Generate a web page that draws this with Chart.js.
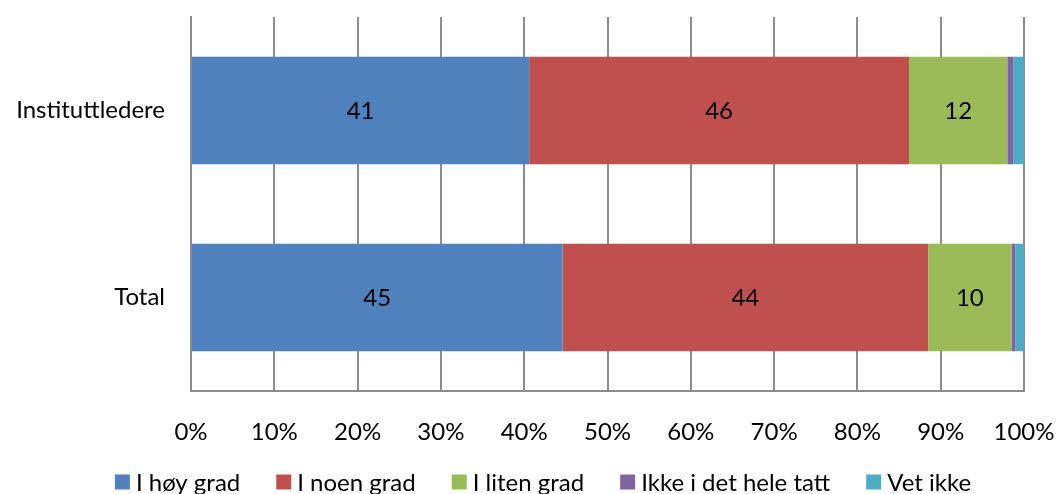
<!DOCTYPE html>
<html>
<head>
<meta charset="utf-8">
<script src="https://cdn.jsdelivr.net/npm/chart.js@4/dist/chart.umd.min.js"></script>
<style>
html,body{margin:0;padding:0;background:#fff;}
#wrap{width:1057px;height:494px;position:relative;}
</style>
</head>
<body>
<div id="wrap"><canvas id="c" width="1057" height="494"></canvas></div>
<script>
const categories = ["Instituttledere", "Total"];
const seriesNames = ["I høy grad", "I noen grad", "I liten grad", "Ikke i det hele tatt", "Vet ikke"];
const hoyGrad = [40.6, 44.6];
const noenGrad = [45.6, 43.9];
const litenGrad = [11.8, 10.0];
const ikkeIDetHele = [0.7, 0.45];
const vetIkke = [1.3, 1.05];
const xTickLabels = ["0%","10%","20%","30%","40%","50%","60%","70%","80%","90%","100%"];
const colors = ["#4F81BD", "#C0504D", "#9BBB59", "#8064A2", "#4BACC6"];
const labelledSeries = [0, 1, 2];

const FONT = "Lato, 'Noto Sans', sans-serif";
const FSIZE = 24;
const GRID = "#8c8c8c";

const values = [hoyGrad, noenGrad, litenGrad, ikkeIDetHele, vetIkke];

const dataLabels = {
  id: 'dataLabels',
  afterDatasetsDraw(chart) {
    const ctx = chart.ctx;
    ctx.save();
    ctx.font = FSIZE + "px " + FONT;
    ctx.fillStyle = "#000";
    ctx.textAlign = "center";
    ctx.textBaseline = "middle";
    labelledSeries.forEach(di => {
      const meta = chart.getDatasetMeta(di);
      meta.data.forEach((el, i) => {
        const p = el.getProps(['x', 'y', 'base'], true);
        const v = chart.data.datasets[di].data[i];
        ctx.fillText(String(Math.round(v)), (p.x + p.base) / 2, p.y + 1);
      });
    });
    ctx.restore();
  }
};

// legend drawn on the canvas from the chart's own datasets
const rowLegend = {
  id: 'rowLegend',
  afterDraw(chart) {
    const ctx = chart.ctx;
    ctx.save();
    ctx.font = FSIZE + "px " + FONT;
    const box = 15, boxGap = 6, itemGap = 36;
    const items = chart.data.datasets.map(d => ({ text: d.label, color: d.backgroundColor, w: ctx.measureText(d.label).width }));
    const total = items.reduce((s, it) => s + box + boxGap + it.w, 0) + itemGap * (items.length - 1);
    let x = 543 - total / 2;
    const yMid = 482;
    ctx.textBaseline = "middle";
    ctx.textAlign = "left";
    items.forEach(it => {
      ctx.fillStyle = it.color;
      ctx.fillRect(x, yMid - box / 2, box, box);
      ctx.fillStyle = "#000";
      ctx.fillText(it.text, x + box + boxGap, yMid + 1);
      x += box + boxGap + it.w + itemGap;
    });
    ctx.restore();
  }
};

new Chart(document.getElementById('c'), {
  type: 'bar',
  data: {
    labels: categories,
    datasets: values.map((arr, i) => ({
      label: seriesNames[i],
      data: arr,
      backgroundColor: colors[i],
      borderWidth: 0,
      categoryPercentage: 1.0,
      barPercentage: 0.575
    }))
  },
  options: {
    indexAxis: 'y',
    responsive: false,
    animation: false,
    devicePixelRatio: 1,
    layout: { padding: { top: 17, right: 33, left: 0, bottom: 0 } },
    scales: {
      x: {
        stacked: true,
        min: 0, max: 100,
        afterFit(s) { s.height = 103; s.paddingLeft = 0; s.paddingRight = 0; s.paddingTop = 0; s.paddingBottom = 0; },
        afterBuildTicks(s) { s.ticks = xTickLabels.map((t, i) => ({ value: i * 10 })); },
        grid: { color: GRID, lineWidth: 2, drawTicks: false },
        border: { display: true, color: GRID, width: 2 },
        ticks: {
          padding: 27,
          color: "#000",
          maxRotation: 0,
          autoSkip: false,
          font: { family: FONT, size: FSIZE },
          callback: (v, i) => xTickLabels[i]
        }
      },
      y: {
        stacked: true,
        afterFit(s) { s.width = 191; s.paddingLeft = 0; s.paddingRight = 0; s.paddingTop = 0; s.paddingBottom = 0; },
        grid: { display: false, drawTicks: false },
        border: { display: true, color: GRID, width: 2 },
        ticks: {
          padding: 26,
          color: "#000",
          font: { family: FONT, size: FSIZE }
        }
      }
    },
    plugins: {
      legend: { display: false },
      tooltip: { enabled: false }
    }
  },
  plugins: [dataLabels, rowLegend]
});
</script>
</body>
</html>
